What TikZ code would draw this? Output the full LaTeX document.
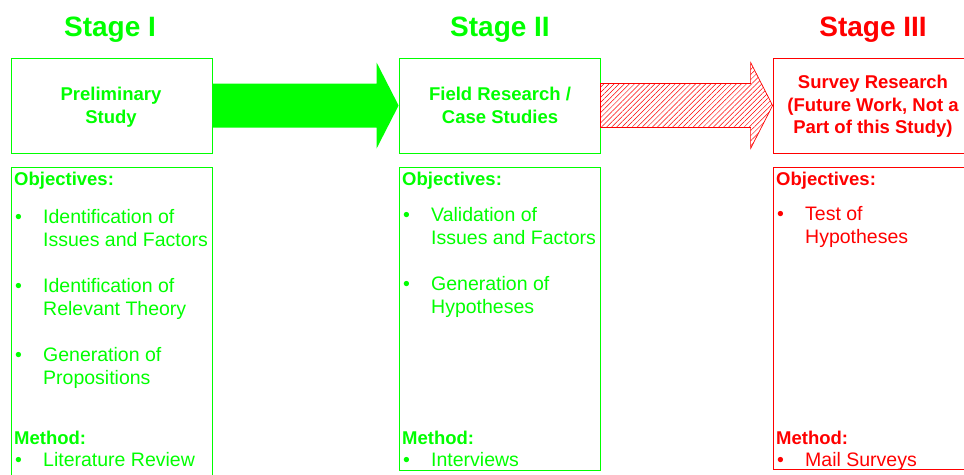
\documentclass[tikz,border=0pt]{standalone}
\usepackage{fontspec}
\setmainfont{Liberation Sans}
\usetikzlibrary{calc,patterns.meta}
\definecolor{stgreen}{RGB}{0,255,0}
\definecolor{stred}{RGB}{255,0,0}
\begin{document}
\begin{tikzpicture}[x=1pt,y=-1pt,
  stagetitle/.style={anchor=base,font=\fontsize{28}{32}\selectfont\bfseries},
  headbox/.style={draw,line width=0.8pt,minimum width=201pt,minimum height=95pt,inner sep=0pt,align=center,
    font=\fontsize{18.5}{22}\selectfont\bfseries},
  headtext/.style={inner sep=0pt,align=center,font=\fontsize{18.5}{22.5}\selectfont\bfseries},
  listbox/.style={draw,line width=0.8pt,minimum width=201pt,inner sep=0pt,anchor=north west},
  heading/.style={anchor=base west,inner sep=0pt,font=\fontsize{18.5}{22}\selectfont\bfseries},
  item/.style={anchor=base west,inner sep=0pt,align=left,font=\fontsize{19.5}{23.5}\selectfont},
  dot/.style={anchor=base west,inner sep=0pt,font=\fontsize{19.5}{23.5}\selectfont},
  greenpart/.style={stgreen,text=stgreen},
  redpart/.style={stred,text=stred}]
\useasboundingbox (0,0) rectangle (964,474);
\clip (0,0) rectangle (964,474);

% stage titles
\node[stagetitle,text=stgreen] (t1) at (110,36) {Stage I};
\node[stagetitle,text=stgreen] (t2) at (500,36) {Stage II};
\node[stagetitle,text=stred]   (t3) at (873,36) {Stage III};

% stage boxes
\node[headbox,greenpart] (b1) at (111.5,105.5) {};
\node[headbox,greenpart] (b2) at (499.5,105.5) {};
\node[headbox,redpart]   (b3) at (873.5,105.5) {};
\node[headtext,text=stgreen,anchor=base] (h1) at (111,123) {Preliminary\\Study};
\node[headtext,text=stgreen,anchor=base] (h2) at (500,123) {Field Research /\\Case Studies};
\node[headtext,text=stred,anchor=base]   (h3) at (873,133.5) {Survey Research\\(Future Work, Not a\\Part of this Study)};

% block arrows between the stages
\fill[stgreen] ($(b1.east)+(0,-22)$) -- ($(b2.west)+(-22,-22)$) -- ($(b2.west)+(-22,-43)$)
  -- (b2.west) -- ($(b2.west)+(-22,43)$) -- ($(b2.west)+(-22,22)$) -- ($(b1.east)+(0,22)$) -- cycle;
\draw[stred,line width=0.7pt,pattern={Lines[angle=45,distance=3.6pt,line width=0.5pt]},pattern color=stred]
  ($(b2.east)+(0,-22)$) -- ($(b3.west)+(-22,-22)$) -- ($(b3.west)+(-22,-43)$)
  -- (b3.west) -- ($(b3.west)+(-22,43)$) -- ($(b3.west)+(-22,22)$) -- ($(b2.east)+(0,22)$) -- cycle;

% objective/method boxes
\node[listbox,greenpart,minimum height=312pt] (l1) at (11,167) {};
\node[listbox,greenpart,minimum height=303pt] (l2) at (399,167) {};
\node[listbox,redpart,minimum height=302pt]   (l3) at (773,167) {};

% stage I contents (two-line items are placed by their last baseline)
\begin{scope}[text=stgreen]
\node[heading] (o1) at (14,185) {Objectives:};
\node[dot] (d11) at (15,223) {•};
\node[item] (i11) at (43,246.5) {Identification of\\Issues and Factors};
\node[dot] (d12) at (15,292) {•};
\node[item] (i12) at (43,315.5) {Identification of\\Relevant Theory};
\node[dot] (d13) at (15,361) {•};
\node[item] (i13) at (43,384.5) {Generation of\\Propositions};
\node[heading] (m1) at (14,444) {Method:};
\node[dot] (d14) at (15,466) {•};
\node[item] (i14) at (43,466) {Literature Review};

% stage II contents
\node[heading] (o2) at (402,185) {Objectives:};
\node[dot] (d21) at (403,221) {•};
\node[item] (i21) at (431,244.5) {Validation of\\Issues and Factors};
\node[dot] (d22) at (403,290) {•};
\node[item] (i22) at (431,313.5) {Generation of\\Hypotheses};
\node[heading] (m2) at (402,444) {Method:};
\node[dot] (d23) at (403,466) {•};
\node[item] (i23) at (431,466) {Interviews};
\end{scope}

% stage III contents
\begin{scope}[text=stred]
\node[heading] (o3) at (776,185) {Objectives:};
\node[dot] (d31) at (777,220) {•};
\node[item] (i31) at (805,243.5) {Test of\\Hypotheses};
\node[heading] (m3) at (776,444) {Method:};
\node[dot] (d32) at (777,466) {•};
\node[item] (i32) at (805,466) {Mail Surveys};
\end{scope}
\end{tikzpicture}
\end{document}
